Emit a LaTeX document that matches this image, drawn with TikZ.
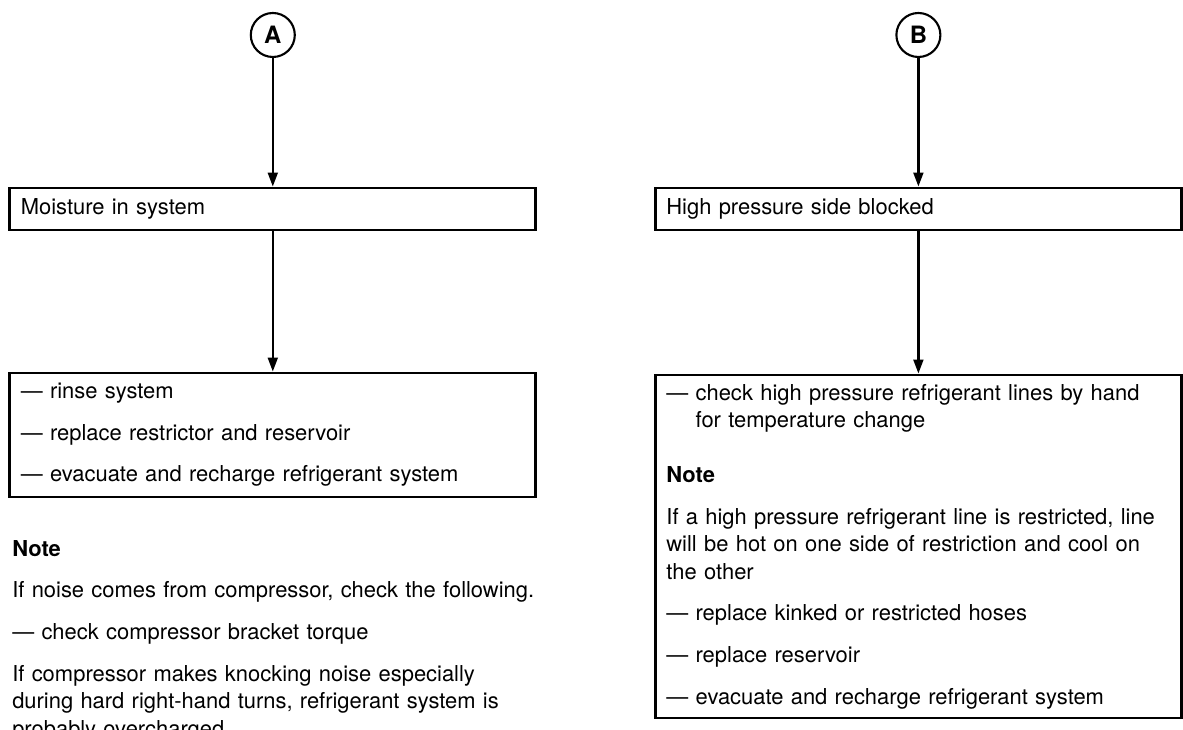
\documentclass[tikz,border=0pt]{standalone}
\usepackage{fontspec}
\setmainfont{TeX Gyre Heros}
\usetikzlibrary{arrows.meta, positioning}

\begin{document}
\begin{tikzpicture}[
    >={Triangle[length=10pt, width=7pt]},
    every node/.style={font=\fontsize{15.6}{19.6}\selectfont},
    letter/.style={draw, circle, line width=1.5pt, minimum size=1.1cm,
                   inner sep=0pt, font=\bfseries\fontsize{17}{17}\selectfont},
    box/.style={draw, line width=2pt, text width=12.6cm,
                inner xsep=0.275cm, align=left},
    flow/.style={->, line width=1.7pt}
  ]
  \useasboundingbox (0, 0) rectangle (29.575, 18.25);

  % Branch A
  \node[letter] (ca) at (6.82, 17.375) {A};
  \node[box, minimum height=1.05cm] (moist) at (6.82, 13.025) {Moisture in system};
  \node[box, minimum height=3.1cm] (fixa) at (6.82, 7.375)
    {--- rinse system\\[10pt]
     --- replace restrictor and reservoir\\[10pt]
     --- evacuate and recharge refrigerant system};
  \node[anchor=north west, text width=14.5cm, align=left, inner sep=0pt]
    (notea) at (0.3, 4.75)
    {\textbf{Note}\\[10pt]
     If noise comes from compressor, check the following.\\[10pt]
     --- check compressor bracket torque\\[10pt]
     If compressor makes knocking noise especially\\
     during hard right-hand turns, refrigerant system is\\
     probably overcharged};

  % Branch B
  \node[letter] (cb) at (22.96, 17.375) {B};
  \node[box, minimum height=1.05cm] (block) at (22.96, 13.025) {High pressure side blocked};
  \node[box, minimum height=8.575cm] (fixb) at (22.96, 4.5875)
    {--- check high pressure refrigerant lines by hand\\
     \phantom{--- }for temperature change\\[19.5pt]
     \textbf{Note}\\[10pt]
     If a high pressure refrigerant line is restricted, line\\
     will be hot on one side of restriction and cool on\\
     the other\\[10pt]
     --- replace kinked or restricted hoses\\[10pt]
     --- replace reservoir\\[10pt]
     --- evacuate and recharge refrigerant system};

  \draw[flow] (ca) -- (moist);
  \draw[flow] (moist) -- (fixa);
  \draw[flow] (cb) -- (block);
  \draw[flow] (block) -- (fixb);
\end{tikzpicture}
\end{document}
